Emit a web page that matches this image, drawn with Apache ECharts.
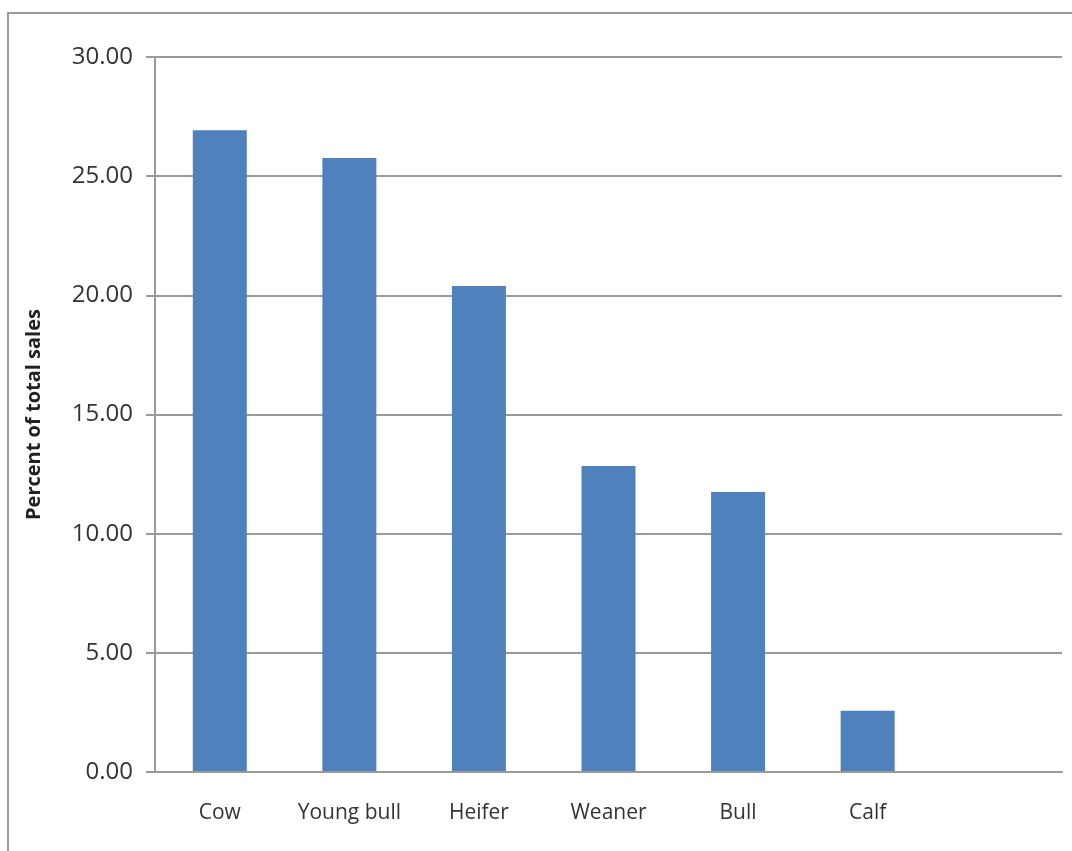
<!DOCTYPE html>
<html>
<head>
<meta charset="utf-8">
<script src="https://cdn.jsdelivr.net/npm/echarts@6/dist/echarts.min.js"></script>
<style>
html,body{margin:0;padding:0;background:#fff;}
#chart{width:1072px;height:851px;}
</style>
</head>
<body>
<div id="chart"></div>
<script>
const categories = ['Cow', 'Young bull', 'Heifer', 'Weaner', 'Bull', 'Calf', ''];
const percentValues = [26.93, 25.76, 20.39, 12.84, 11.75, 2.57, null];
const yTickMin = 0, yTickMax = 30, yTickStep = 5;
const yAxisTitle = 'Percent of total sales';

const chart = echarts.init(document.getElementById('chart'), null, {renderer: 'canvas'});
chart.setOption({
  animation: false,
  backgroundColor: '#ffffff',
  graphic: [{
    type: 'rect',
    shape: {x: 8, y: 13, width: 1100, height: 900},
    style: {fill: 'none', stroke: '#9a9a9a', lineWidth: 2},
    silent: true
  }],
  grid: {left: 155, right: 10, top: 57, bottom: 79, containLabel: false},
  xAxis: {
    type: 'category',
    data: categories,
    axisLine: {show: true, lineStyle: {color: '#9a9a9a', width: 2}},
    axisTick: {show: false},
    axisLabel: {
      interval: 0,
      hideOverlap: false,
      color: '#333333', fontFamily: 'Open Sans', fontSize: 21, margin: 31
    },
    z: 5
  },
  yAxis: {
    type: 'value',
    min: yTickMin, max: yTickMax, interval: yTickStep,
    name: yAxisTitle,
    nameLocation: 'middle',
    nameGap: 111,
    nameRotate: 90,
    nameTextStyle: {color: '#222', fontFamily: 'Open Sans', fontWeight: 'bold', fontSize: 20},
    axisLine: {show: true, lineStyle: {color: '#9a9a9a', width: 2}},
    axisTick: {show: true, length: 9, lineStyle: {color: '#9a9a9a', width: 2}},
    axisLabel: {
      color: '#333333', fontFamily: 'Open Sans', fontSize: 24, margin: 22,
      formatter: v => v.toFixed(2)
    },
    splitLine: {show: true, lineStyle: {color: '#9a9a9a', width: 2}}
  },
  series: [{
    type: 'bar',
    data: percentValues,
    barWidth: 54,
    itemStyle: {color: '#4F81BD'}
  }]
});
</script>
</body>
</html>
